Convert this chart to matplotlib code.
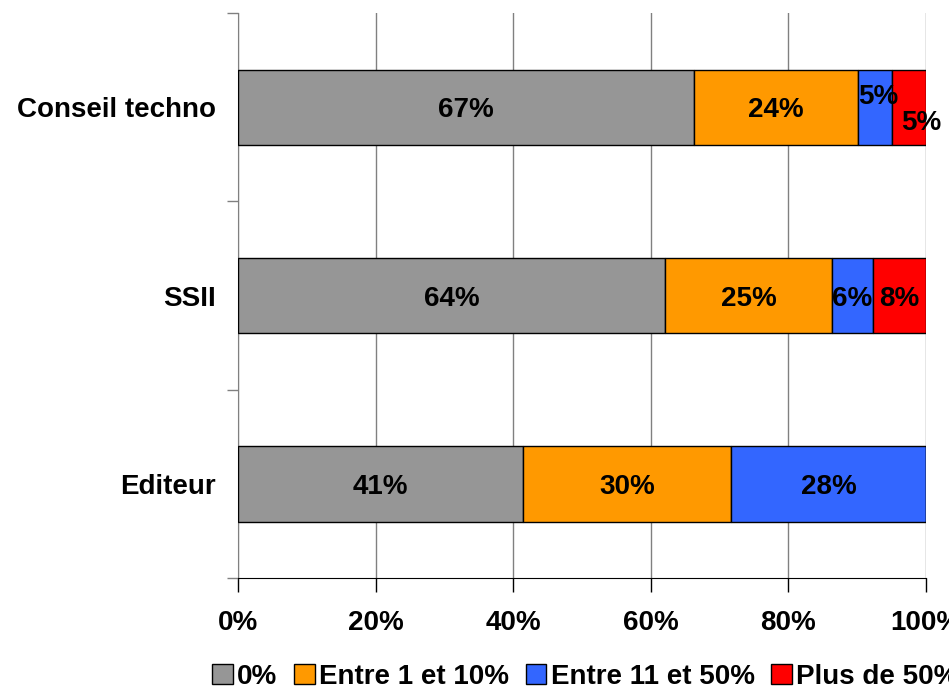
import matplotlib
matplotlib.use("Agg")
import matplotlib.pyplot as plt
import numpy as np
from matplotlib.patches import Patch

plt.rcParams['font.family'] = ['Liberation Sans', 'DejaVu Sans']
plt.rcParams['font.weight'] = 'bold'

categories = ["Editeur", "SSII", "Conseil techno"]
series_names = ["0%", "Entre 1 et 10%", "Entre 11 et 50%", "Plus de 50%"]
values = {
    "0%": [41, 64, 67],
    "Entre 1 et 10%": [30, 25, 24],
    "Entre 11 et 50%": [28, 6, 5],
    "Plus de 50%": [0, 8, 5],
}
colors = ["#969696", "#FF9900", "#3366FF", "#FF0000"]
xticklabels = ["0%", "20%", "40%", "60%", "80%", "100%"]

FS = 20

fig = plt.figure(figsize=(9.49, 6.89), dpi=100)
ax = fig.add_axes([238/949, 1-578/689, (926-238)/949, (578-13)/689])

raw = np.array([values[s] for s in series_names], dtype=float)
totals = raw.sum(axis=0)
frac = raw / totals * 100
y = np.arange(len(categories))
left = np.zeros(len(categories))
for i, s in enumerate(series_names):
    ax.barh(y, frac[i], left=left, height=0.4, color=colors[i],
            edgecolor='black', linewidth=1.0, zorder=3)
    for j in range(len(categories)):
        if raw[i, j] > 0:
            cx = left[j] + frac[i, j] / 2
            cy = y[j]
            if categories[j] == "Conseil techno" and s == "Entre 11 et 50%":
                cy += 0.07
                cx += 0.5
            if categories[j] == "Conseil techno" and s == "Plus de 50%":
                cy -= 0.07
                cx += 1.8
            ax.text(cx, cy, f"{int(raw[i, j])}%", ha='center', va='center_baseline',
                    fontsize=FS, fontweight='bold', color='black', zorder=4,
                    clip_on=False)
    left += frac[i]

ax.set_xlim(0, 100)
ax.set_ylim(-0.5, 2.5)
ax.set_xticks(np.arange(0, 101, 20))
ax.set_xticklabels(xticklabels, fontsize=FS, fontweight='bold')
ax.set_yticks([-0.5, 0.5, 1.5, 2.5])
ax.set_yticklabels([])
ax.set_yticks(y, minor=True)
ax.set_yticklabels(categories, minor=True, fontsize=FS, fontweight='bold')
ax.tick_params(axis='y', which='minor', length=0, pad=16)
ax.tick_params(axis='y', which='major', length=8, color='#808080', width=1)
ax.tick_params(axis='x', length=10, color='black', width=1, pad=13)
ax.xaxis.grid(True, color='#808080', linewidth=1, zorder=0)
ax.set_axisbelow(True)
for sp in ['top', 'right']:
    ax.spines[sp].set_visible(False)
ax.spines['left'].set_color('#808080')
ax.spines['bottom'].set_color('black')

handles = [Patch(facecolor=c, edgecolor='black', linewidth=1) for c in colors]
fig.legend(handles, series_names, loc='center left',
           bbox_to_anchor=(212/949, 1-677/689), ncol=4, frameon=False,
           handlelength=0.75, handleheight=0.75, handletextpad=0.15,
           columnspacing=0.6, borderaxespad=0, borderpad=0,
           prop={'weight': 'bold', 'size': FS})

fig.savefig("out.png", dpi=100)
